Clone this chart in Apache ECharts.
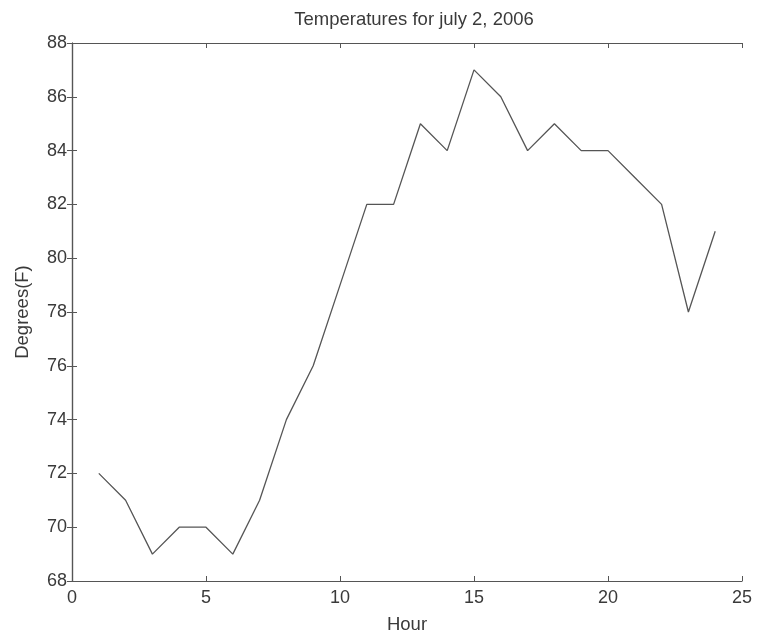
<!DOCTYPE html>
<html>
<head>
<meta charset="utf-8">
<script src="https://cdn.jsdelivr.net/npm/echarts@6/dist/echarts.min.js"></script>
<style>
  html, body { margin: 0; padding: 0; background: #fff; }
  #chart { width: 758px; height: 639px; }
</style>
</head>
<body>
<div id="chart"></div>
<script>
// Hourly temperature readings
const hours = [1, 2, 3, 4, 5, 6, 7, 8, 9, 10, 11, 12, 13, 14, 15, 16, 17, 18, 19, 20, 21, 22, 23, 24];
const degrees = [72, 71, 69, 70, 70, 69, 71, 74, 76, 79, 82, 82, 85, 84, 87, 86, 84, 85, 84, 84, 83, 82, 78, 81];
const titleText = 'Temperatures for july 2, 2006';
const xName = 'Hour';
const yName = 'Degrees(F)';

const ink = '#3a3a3a';
const font = 'Liberation Sans, Arial, sans-serif';

const chart = echarts.init(document.getElementById('chart'));

const baseAxisLine = { show: true, lineStyle: { color: '#555', width: 1.2 } };
const tickIn = { show: true, inside: true, length: 5, lineStyle: { color: '#555', width: 1 } };

chart.setOption({
  backgroundColor: '#fff',
  animation: false,
  title: {
    text: titleText,
    left: 409, top: 5, textAlign: 'center',
    textStyle: { fontFamily: font, fontSize: 18.5, fontWeight: 'normal', color: ink }
  },
  grid: { left: 72, right: 16, top: 43, bottom: 57 },
  xAxis: [
    {
      type: 'value', min: 0, max: 25, interval: 5, position: 'bottom',
      name: xName, nameLocation: 'middle', nameGap: 34,
      nameTextStyle: { fontFamily: font, fontSize: 18.5, color: ink },
      axisLine: baseAxisLine, axisTick: tickIn, splitLine: { show: false },
      axisLabel: { fontFamily: font, fontSize: 18, color: ink, margin: 8 }
    },
    {
      type: 'value', min: 0, max: 25, interval: 5, position: 'top',
      axisLine: baseAxisLine, axisTick: tickIn, splitLine: { show: false },
      axisLabel: { show: false }
    }
  ],
  yAxis: [
    {
      type: 'value', min: 68, max: 88, interval: 2, position: 'left',
      name: yName, nameLocation: 'middle', nameGap: 40, nameRotate: 90,
      nameTextStyle: { fontFamily: font, fontSize: 18.5, color: ink },
      axisLine: baseAxisLine, axisTick: tickIn, splitLine: { show: false },
      axisLabel: { fontFamily: font, fontSize: 18, color: ink, margin: 5 }
    },
    {
      type: 'value', min: 68, max: 88, interval: 2, position: 'right',
      axisLine: baseAxisLine, axisTick: tickIn, splitLine: { show: false },
      axisLabel: { show: false }
    }
  ],
  series: [{
    type: 'line',
    xAxisIndex: 0, yAxisIndex: 0,
    data: hours.map((h, i) => [h, degrees[i]]),
    showSymbol: false,
    lineStyle: { color: '#555', width: 1.3 }
  }]
});
</script>
</body>
</html>
